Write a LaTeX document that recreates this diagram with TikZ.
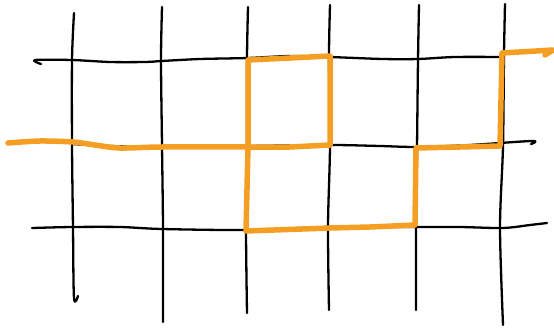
\documentclass[tikz,border=0pt]{standalone}
\usetikzlibrary{calc}
\definecolor{routeorange}{RGB}{245,158,36}
\tikzset{
  grid line/.style={black,line width=2.3pt,line cap=round,line join=round},
  route line/.style={routeorange,line width=5.5pt,line cap=round,line join=round},
}

\begin{document}
\begin{tikzpicture}[x=1pt,y=-1pt]
  \useasboundingbox (0,0) rectangle (554,329);
  % vertical lines
  \draw[grid line] plot[smooth] coordinates {(74,13) (72,60) (72,145) (73,228) (74,298) (78,296)};
  \draw[grid line] plot[smooth] coordinates {(162,7) (161,60) (162,145) (163,228) (163,322)};
  \draw[grid line] plot[smooth] coordinates {(248,7) (247,58) (247,147) (246,228) (247,313)};
  \draw[grid line] plot[smooth] coordinates {(330,5) (329,57) (330,145) (328,226) (329,310)};
  \draw[grid line] plot[smooth] coordinates {(419,5) (418,60) (417,148) (416,226) (416,310)};
  \draw[grid line] plot[smooth] coordinates {(505,4) (504,54) (503,146) (500,228) (503,325)};
  % horizontal lines
  \draw[grid line] plot[smooth] coordinates {(41,64) (35,60) (72,60) (110,62) (145,62) (162,61) (200,59) (248,58) (290,56) (330,57) (383,59) (418,59) (455,57) (504,57)};
  \draw[grid line] plot[smooth] coordinates {(72,144) (110,146) (162,147) (248,146) (330,145) (380,146) (418,147) (470,145) (532,141) (531,144)};
  \draw[grid line] plot[smooth] coordinates {(32,228) (72,227) (120,227) (162,229) (248,230) (330,227) (418,227) (460,227) (503,228) (530,225) (547,223)};
  % orange route
  \draw[route line] plot[smooth] coordinates {(8,143) (40,141) (73,142) (95,145) (120,148) (162,147) (248,147)};
  \draw[route line] (248,147) -- (248,60) -- (290,58) -- (330,56) -- (330,145) -- (290,147) -- cycle;
  \draw[route line] (248,147) -- (246,231) -- (330,228) -- (370,227) -- (415,225)
    -- (416,148) -- (460,147) -- (500,146) -- (502,53) -- (553,50) -- (545,55);
\end{tikzpicture}
\end{document}
